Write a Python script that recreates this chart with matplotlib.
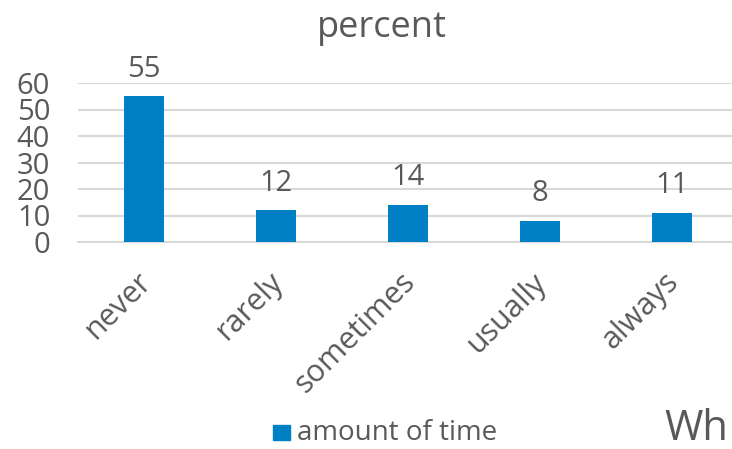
import matplotlib.pyplot as plt
from matplotlib.patches import Rectangle
from matplotlib.transforms import ScaledTranslation

# Datos del gráfico
categorias = ["never", "rarely", "sometimes", "usually", "always"]
valores = [55, 12, 14, 8, 11]
ticks_y = [0, 10, 20, 30, 40, 50, 60]

azul = "#0080C4"
gris_texto = "#595959"
gris_linea = "#D9D9D9"

plt.rcParams['font.family'] = ['Open Sans', 'DejaVu Sans']

W, H = 732, 449
fig = plt.figure(figsize=(W / 100, H / 100), dpi=100)
ax = fig.add_axes([78 / W, 1 - 242 / H, 660 / W, 159 / H])

x = range(len(categorias))
ax.bar(x, valores, width=0.31, color=azul, zorder=3)

ax.set_xlim(-0.5, len(categorias) - 0.5)
ax.set_ylim(0, 60)
ax.set_yticks(ticks_y)
ax.yaxis.grid(True, color=gris_linea, linewidth=1.5, zorder=0)
ax.tick_params(axis='y', length=0, labelsize=21, labelcolor=gris_texto, pad=20)
ax.tick_params(axis='x', length=0, labelsize=22, labelcolor=gris_texto, pad=18)

ax.set_xticks(list(x))
ax.set_xticklabels(categorias, rotation=45, ha='right', rotation_mode='anchor')
# correr un poco las etiquetas inclinadas hacia la izquierda
desplazamiento = ScaledTranslation(-8 / 100, 0, fig.dpi_scale_trans)
for etiqueta in ax.get_xticklabels():
    etiqueta.set_transform(etiqueta.get_transform() + desplazamiento)

for lado in ['top', 'right', 'left']:
    ax.spines[lado].set_visible(False)
ax.spines['bottom'].set_color(gris_linea)
ax.spines['bottom'].set_linewidth(1.5)

# Etiquetas de valor encima de cada barra
for xi, v in zip(x, valores):
    ax.annotate(str(v), (xi, v), xytext=(0, 14), textcoords='offset points',
                ha='center', va='baseline', fontsize=21, color=gris_texto)

fig.text(382 / W, 1 - 37 / H, "percent", ha='center', va='baseline',
         fontsize=26, color=gris_texto)

# Leyenda dibujada a mano
fig.add_artist(Rectangle((273 / W, 1 - 440 / H), 17 / W, 15 / H,
                         transform=fig.transFigure, color=azul))
fig.text(297 / W, 1 - 440 / H, "amount of time", ha='left', va='baseline',
         fontsize=20, color=gris_texto)

fig.text(664 / W, 1 - 440 / H, "Wh", ha='left', va='baseline', fontsize=30, color=gris_texto)

fig.savefig("out.png", dpi=100)
